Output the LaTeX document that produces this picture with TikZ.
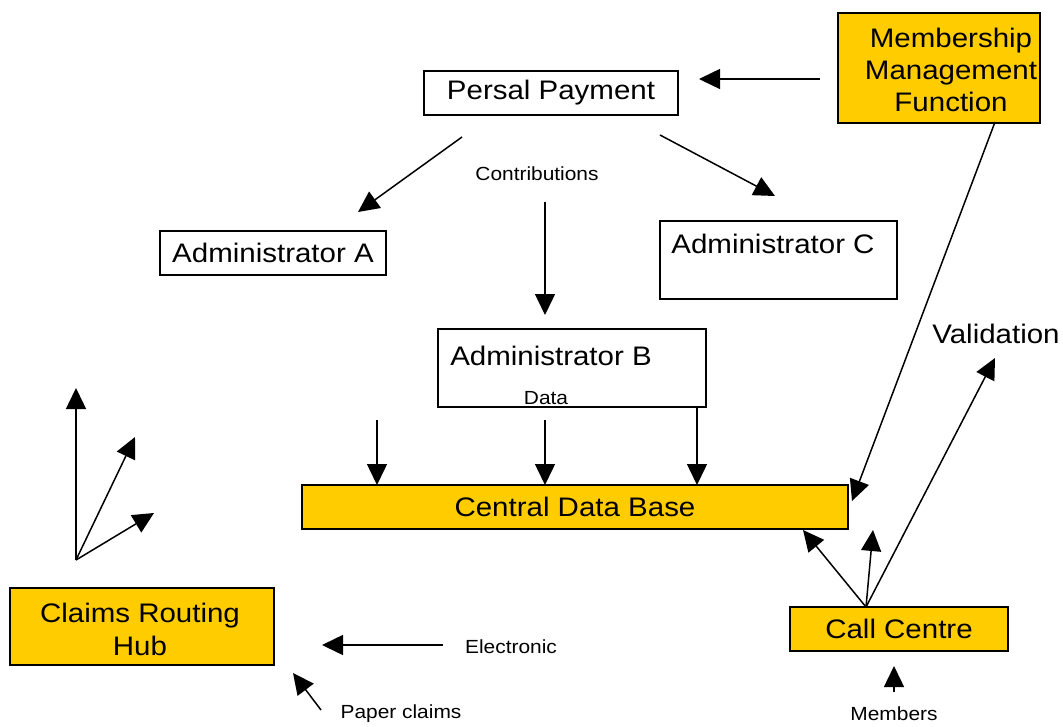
\documentclass[tikz,border=0pt]{standalone}
\usepackage{fontspec}
\setmainfont{Liberation Sans}[FakeStretch=1.1]
\usetikzlibrary{arrows.meta}
\definecolor{gold}{HTML}{FFCC00}
\begin{document}
\begin{tikzpicture}[x=1pt,y=-1pt,
  box/.style={draw,line width=1.5pt,rectangle,inner sep=0pt},
  ybox/.style={box,fill=gold},
  big/.style={font=\fontsize{26.8}{32}\selectfont,inner sep=0pt},
  small/.style={font=\fontsize{19}{22}\selectfont,inner sep=0pt},
  arr/.style={line width=1.5pt,-{Triangle[length=21pt,width=20pt]}}]
\useasboundingbox (0,0) rectangle (1063,726);
% boxes
\node[ybox,minimum width=202pt,minimum height=110pt] (mmf) at (939,68) {};
\node[big,align=center] (mmft) at (951,70) {Membership\\Management\\Function};
\node[box,big,minimum width=254pt,minimum height=44pt] (pp) at (551,93) {Persal Payment};
\node[box,big,minimum width=226pt,minimum height=44pt] (adA) at (273,253) {Administrator A};
\node[box,minimum width=237pt,minimum height=78pt] (adC) at (778.5,260) {};
\node[big] (adCt) at (773,244) {Administrator C};
\node[box,minimum width=268pt,minimum height=78pt] (adB) at (572,368) {};
\node[big] (adBt) at (551,356) {Administrator B};
\node[small] (data) at (546,398) {Data};
\node[ybox,big,minimum width=546pt,minimum height=44pt] (cdb) at (575,507) {Central Data Base};
\node[ybox,big,minimum width=218pt,minimum height=44pt] (cc) at (899,629) {Call Centre};
\node[ybox,minimum width=264pt,minimum height=77pt] (crh) at (142,626.5) {};
\node[big,align=center,font=\fontsize{26.8}{33}\selectfont] (crht) at (140,629) {Claims Routing\\Hub};
% labels
\node[small] (contrib) at (537,174) {Contributions};
\node[small] (elec) at (511,647) {Electronic};
\node[small] (paper) at (401,714) {Paper claims};
\node[small] (members) at (894,714) {Members};
\node[big] (valid) at (996,334) {Validation};
% coordinates
\coordinate (mmTail) at (820,79);
\coordinate (ppTip) at (699,79);
\coordinate (paTail) at (462,137);
\coordinate (aTip) at (358,212);
\coordinate (pcTail) at (660,135);
\coordinate (cTip) at (775,196);
\coordinate (conTail) at (545,202);
\coordinate (bTip) at (545,315);
\coordinate (d1a) at (377,420);
\coordinate (d1b) at (377,485);
\coordinate (d2a) at (545,420);
\coordinate (d2b) at (545,485);
\coordinate (d3a) at (697,407);
\coordinate (d3b) at (697,485);
\coordinate (mmFrom) at (995,122);
\coordinate (cdbTip) at (852,501);
\coordinate (ccTop) at (866,607);
\coordinate (cc1) at (803,530);
\coordinate (cc2) at (873,530);
\coordinate (ccV) at (995,358);
\coordinate (memTail) at (894,692);
\coordinate (memTip) at (894,666);
\coordinate (lo) at (76,560);
\coordinate (l1) at (76,388);
\coordinate (l2) at (135,437);
\coordinate (l3) at (154,513);
\coordinate (eTail) at (443,645);
\coordinate (eTip) at (322,645);
\coordinate (pTail) at (321,710);
\coordinate (pTip) at (293,673);
% arrows
\draw[arr] (mmTail) -- (ppTip);
\draw[arr] (paTail) -- (aTip);
\draw[arr] (pcTail) -- (cTip);
\draw[arr] (conTail) -- (bTip);
\draw[arr] (d1a) -- (d1b);
\draw[arr] (d2a) -- (d2b);
\draw[arr] (d3a) -- (d3b);
\draw[arr] (mmFrom) -- (cdbTip);
\draw[arr] (ccTop) -- (cc1);
\draw[arr] (ccTop) -- (cc2);
\draw[arr] (ccTop) -- (ccV);
\draw[arr] (memTail) -- (memTip);
\draw[arr] (lo) -- (l1);
\draw[arr] (lo) -- (l2);
\draw[arr] (lo) -- (l3);
\draw[arr] (eTail) -- (eTip);
\draw[arr] (pTail) -- (pTip);
\end{tikzpicture}
\end{document}
